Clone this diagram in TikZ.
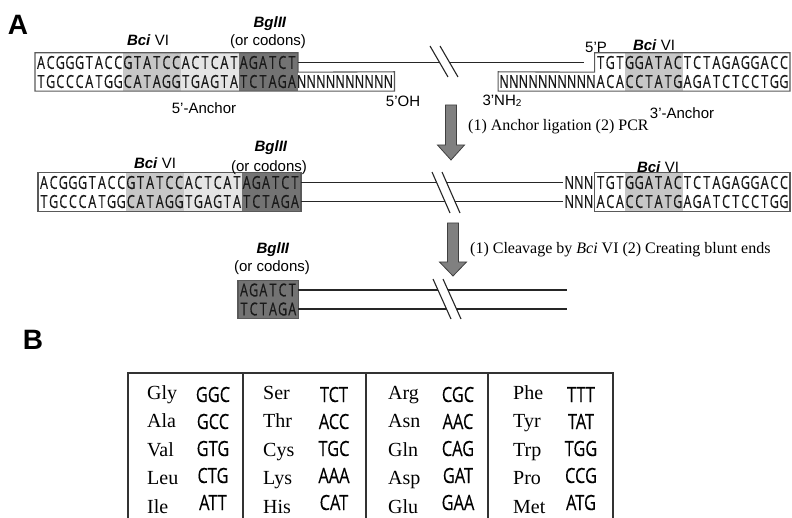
\documentclass[tikz,border=0pt]{standalone}
\usepackage{fontspec}
\setmainfont{Liberation Serif}
\setsansfont{Liberation Sans}
\newfontfamily\seqfont[FakeStretch=0.7, FakeBold=0.4]{Open Sans}
\newfontfamily\codfont[FakeStretch=0.78, FakeBold=0.25]{Open Sans}

% fixed letter pitch for the DNA strands
\newlength\seqw
\setlength\seqw{9.65pt}
\newcommand\seq[1]{\seqrun#1\relax}
\newcommand\seqrun[1]{\ifx\relax#1\else\makebox[\seqw]{#1}\expandafter\seqrun\fi}

\begin{document}
\begin{tikzpicture}[x=1pt, y=-1pt,
	seq/.style={inner xsep=1pt, inner ysep=0pt, text height=12.9pt, text depth=0pt,
		minimum height=19pt, text=black!90, font=\seqfont\fontsize{18}{18}\selectfont},
	outl/.style={draw=black!65, line width=1.1pt},
	strand/.style={line width=1.6pt, black!85},
	light/.style={fill=black!22},
	lighter/.style={fill=black!10},
	dark/.style={fill=black!55},
	lab/.style={font=\sffamily\fontsize{15}{15}\selectfont, inner sep=0pt},
	steptext/.style={font=\fontsize{16}{16}\selectfont, anchor=west, inner sep=0pt},
	bigarrow/.style={draw=black!75, fill=black!50, line width=0.8pt},
	aa/.style={font=\fontsize{20}{20}\selectfont, anchor=base west, inner sep=0pt},
	codon/.style={font=\codfont\fontsize{21}{21}\selectfont, anchor=base, inner sep=0pt},
	tab/.style={line width=1.1pt, draw=black!80}]

	\useasboundingbox (0,0) rectangle (792,518);

	% panel letters
	\node[font=\sffamily\bfseries\fontsize{28}{28}\selectfont, inner sep=0pt] (panelA) at (18,25) {A};
	\node[font=\sffamily\bfseries\fontsize{28}{28}\selectfont, inner sep=0pt] (panelB) at (33,340) {B};

	% shading of the sites
	\fill[light] (122.85,53) rectangle (180.75,91);
	\fill[lighter] (180.75,53) rectangle (238.65,91);
	\fill[dark] (238.65,53) rectangle (297.55,91);
	\fill[light] (624.95,53) rectangle (682.85,91);
	\fill[light] (125.85,173) rectangle (183.75,211);
	\fill[lighter] (183.75,173) rectangle (241.65,211);
	\fill[dark] (241.65,173) rectangle (300.55,211);
	\fill[light] (624.95,173) rectangle (682.85,211);
	\fill[dark] (238,280.5) rectangle (297.9,318.5);

	% row 1: anchors before ligation
	\node[seq, anchor=west] (a1t) at (35,62.5) {\seq{ACGGGTACCGTATCCACTCATAGATCT}};
	\node[seq, anchor=west] (a1b) at (35,81.5) {\seq{TGCCCATGGCATAGGTGAGTATCTAGANNNNNNNNNN}};
	\node[seq, anchor=east] (b1t) at (790,62.5) {\seq{TGTGGATACTCTAGAGGACC}};
	\node[seq, anchor=east] (b1b) at (790,81.5) {\seq{NNNNNNNNNNACACCTATGAGATCTCCTGG}};
	\draw[outl] (a1t.north west) -- (a1t.north east) -- (a1t.south east) -- (a1b.north east)
		-- (a1b.south east) -- (a1b.south west) -- cycle;
	\draw[outl] (b1t.north west) -- (b1t.north east) -- (b1b.south east) -- (b1b.south west)
		-- (b1b.north west) -- (b1t.south west) -- cycle;
	\coordinate (p5) at (584,62.5);
	\draw[strand] (a1t.east) -- (p5);

	% row 2: ligated product
	\node[seq, anchor=west] (a2t) at (38,182.5) {\seq{ACGGGTACCGTATCCACTCATAGATCT}};
	\node[seq, anchor=west] (a2b) at (38,201.5) {\seq{TGCCCATGGCATAGGTGAGTATCTAGA}};
	\node[seq, anchor=east] (b2t) at (790,182.5) {\seq{TGTGGATACTCTAGAGGACC}};
	\node[seq, anchor=east] (b2b) at (790,201.5) {\seq{ACACCTATGAGATCTCCTGG}};
	\node[seq, anchor=east] (n2t) at (b2t.west) {\seq{NNN}};
	\node[seq, anchor=east] (n2b) at (b2b.west) {\seq{NNN}};
	\draw[outl] (a2t.north west) rectangle (a2b.south east);
	\draw[outl] (b2t.north west) rectangle (b2b.south east);
	\draw[strand] (a2t.east) -- (n2t.west);
	\draw[strand] (a2b.east) -- (n2b.west);

	% row 3: after cleavage
	\node[seq, anchor=west] (c3t) at (238,290) {\seq{AGATCT}};
	\node[seq, anchor=west] (c3b) at (238,309) {\seq{TCTAGA}};
	\draw[outl] (c3t.north west) rectangle (c3b.south east);
	\coordinate (e3t) at (567,290);
	\coordinate (e3b) at (567,309);
	\draw[strand] (c3t.east) -- (e3t);
	\draw[strand] (c3b.east) -- (e3b);

	% breaks in the strands
	\foreach \bx/\ya/\yb in {430/46/77, 432/172/213, 433/279/319} {
		\fill[white] (\bx,\ya) -- (\bx+10,\ya) -- (\bx+28,\yb) -- (\bx+18,\yb) -- cycle;
		\draw[line width=1.1pt, black!85] (\bx,\ya) -- (\bx+18,\yb);
		\draw[line width=1.1pt, black!85] (\bx+10,\ya) -- (\bx+28,\yb);
	}

	% labels
	\node[lab] (bci1) at (148,40) {\textbf{\textit{Bci}} VI};
	\node[lab] (bgl1) at (270,24) {\textbf{\textit{BglII}}};
	\node[lab] (cod1) at (268,42) {(or codons)};
	\node[lab] (anc5) at (204,108) {5'-Anchor};
	\node[lab] (oh5) at (403,101) {5'OH};
	\node[lab] (nh3) at (502,101) {3'NH\raisebox{-1pt}{\fontsize{10}{10}\selectfont 2}};
	\node[lab] (p5lab) at (596,47) {5'P};
	\node[lab] (bci2) at (654,45) {\textbf{\textit{Bci}} VI};
	\node[lab] (anc3) at (682,113) {3'-Anchor};
	\node[lab] (bci3) at (155,163) {\textbf{\textit{Bci}} VI};
	\node[lab] (bgl2) at (271,148) {\textbf{\textit{BglII}}};
	\node[lab] (cod2) at (269,168) {(or codons)};
	\node[lab] (bci4) at (658,167) {\textbf{\textit{Bci}} VI};
	\node[lab] (bgl3) at (273,250) {\textbf{\textit{BglII}}};
	\node[lab] (cod3) at (272,268) {(or codons)};

	% process arrows
	\draw[bigarrow, shift={(451,105)}] (-5.5,0) -- (5.5,0) -- (5.5,40) -- (13.5,40)
		-- (0,55) -- (-13.5,40) -- (-5.5,40) -- cycle;
	\draw[bigarrow, shift={(453,223)}] (-5.5,0) -- (5.5,0) -- (5.5,39) -- (13.5,39)
		-- (0,53) -- (-13.5,39) -- (-5.5,39) -- cycle;
	\node[steptext] (step1) at (468,127) {(1) Anchor ligation (2) PCR};
	\node[steptext] (step2) at (470,250) {(1) Cleavage by \textit{Bci} VI (2) Creating blunt ends};

	% codon table
	\draw[tab] (128,518) -- (128,373) -- (613,373) -- (613,518);
	\foreach \x in {243,366,488}
		\draw[tab] (\x,373) -- (\x,518);
	\foreach \a/\c [count=\i from 0] in {Gly/GGC,Ala/GCC,Val/GTG,Leu/CTG,Ile/ATT} {
		\node[aa] (aa1\i) at (147,{399+28.5*\i}) {\a};
		\node[codon] (cd1\i) at (213,{402+27*\i}) {\c};
	}
	\foreach \a/\c [count=\i from 0] in {Ser/TCT,Thr/ACC,Cys/TGC,Lys/AAA,His/CAT} {
		\node[aa] (aa2\i) at (263,{399+28.5*\i}) {\a};
		\node[codon] (cd2\i) at (334,{402+27*\i}) {\c};
	}
	\foreach \a/\c [count=\i from 0] in {Arg/CGC,Asn/AAC,Gln/CAG,Asp/GAT,Glu/GAA} {
		\node[aa] (aa3\i) at (388,{399+28.5*\i}) {\a};
		\node[codon] (cd3\i) at (458,{402+27*\i}) {\c};
	}
	\foreach \a/\c [count=\i from 0] in {Phe/TTT,Tyr/TAT,Trp/TGG,Pro/CCG,Met/ATG} {
		\node[aa] (aa4\i) at (513,{399+28.5*\i}) {\a};
		\node[codon] (cd4\i) at (581,{402+27*\i}) {\c};
	}

\end{tikzpicture}
\end{document}
